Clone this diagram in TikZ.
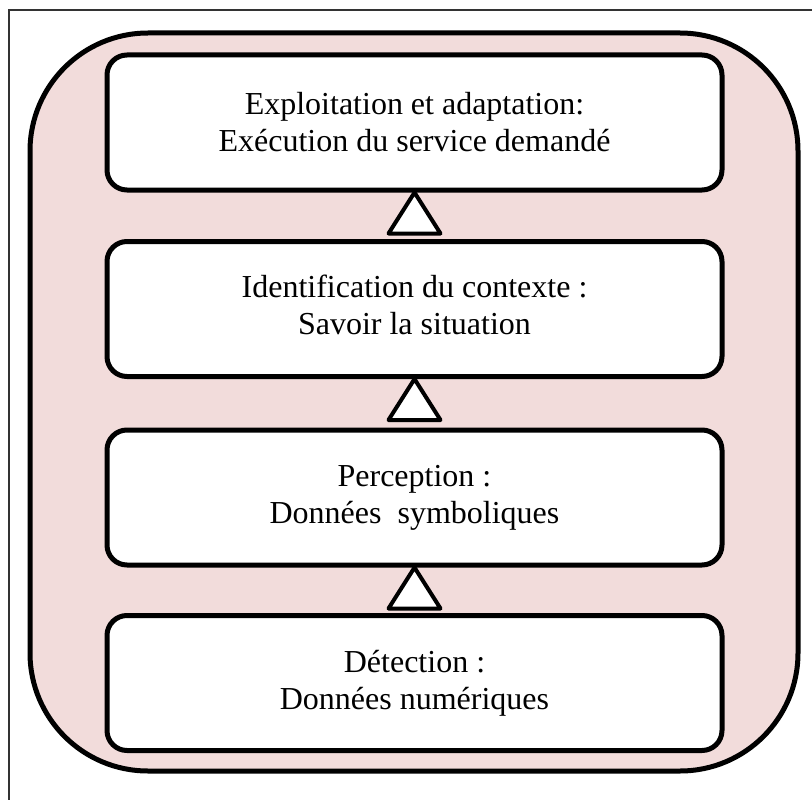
\documentclass[tikz,border=0pt]{standalone}
\usepackage{fontspec}
\setmainfont{Liberation Serif}
\definecolor{pinkbg}{HTML}{F2DCDB}

\begin{document}
\begin{tikzpicture}[x=1pt, y=-1pt,
	stage/.style={draw, fill=white, line width=5pt, rounded corners=20pt,
		minimum width=615pt, minimum height=135pt, inner sep=0pt},
	label/.style={align=center, font=\fontsize{32}{37}\selectfont},
	uptri/.style={draw, fill=white, line width=4pt, line join=round}]
	\useasboundingbox (0,0) rectangle (812,800);
	\draw[line width=1.2pt, black!80] (9,10) rectangle (830,830);
	\draw[line width=5pt, fill=pinkbg, rounded corners=118pt] (30,33) rectangle (798,771);
	\coordinate (P1) at (414.5,122.5);
	\coordinate (P2) at (414.5,309);
	\coordinate (P3) at (414.5,497.5);
	\coordinate (P4) at (414.5,683);
	\node[stage] (exploit) at (P1) {};
	\node[stage] (context) at (P2) {};
	\node[stage] (percept) at (P3) {};
	\node[stage] (detect) at (P4) {};
	\node[label] (exploitT) at (exploit.center) {Exploitation et adaptation:\\Exécution du service demandé};
	\node[label] (contextT) at ([yshift=4pt]context.center) {Identification du contexte :\\Savoir la situation};
	\node[label] (perceptT) at (percept.center) {Perception :\\Données\ \ symboliques};
	\node[label] (detectT) at (detect.center) {Détection :\\Données numériques};
	\foreach \a in {exploit, context, percept}
		\draw[uptri] (\a.south) -- ++(-26,41) -- ++(52,0) -- cycle;
\end{tikzpicture}
\end{document}
